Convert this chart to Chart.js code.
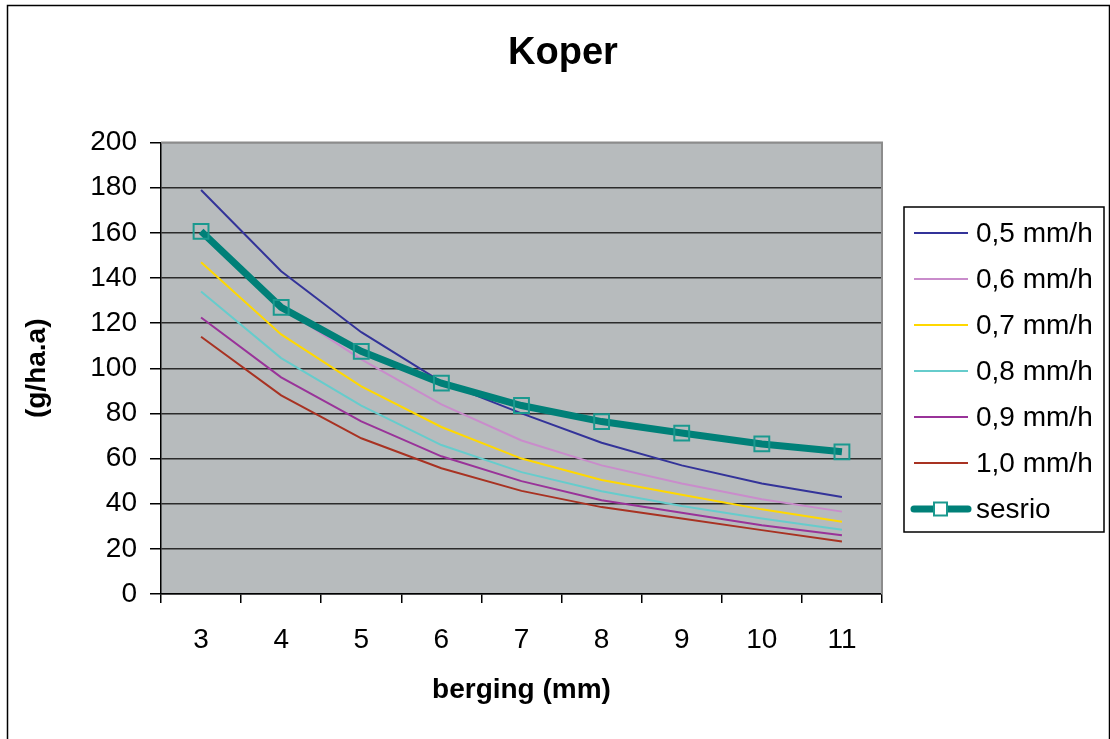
<!DOCTYPE html>
<html>
<head>
<meta charset="utf-8">
<title>Koper</title>
<script src="https://cdn.jsdelivr.net/npm/chart.js@4/dist/chart.umd.min.js"></script>
<style>
  body { margin: 0; background: #fff; }
  canvas { display: block; }
</style>
</head>
<body>
<canvas id="myChart" width="1110" height="739"></canvas>
<script>
// berging (mm) on x, load (g/ha.a) on y
const labels = ["3", "4", "5", "6", "7", "8", "9", "10", "11"];

const mm05 = [179, 143, 116, 94, 80, 67, 57, 49, 43];
const mm06 = [160, 127, 104, 84, 68, 57, 49, 42, 36.5];
const mm07 = [147, 115, 92, 74, 60, 50.5, 44, 37.5, 32];
const mm08 = [134, 104.5, 83.5, 66, 54, 45.5, 39, 33.5, 28.5];
const mm09 = [122.5, 96, 76.5, 61, 50, 41.5, 36, 30.5, 26];
const mm10 = [114, 88, 69, 55.7, 45.7, 38.5, 33.5, 28.3, 23.3];
const sesrio = [160.7, 127, 107.5, 93.4, 83.5, 76.4, 71.3, 66.5, 63];

const yTicks = [0, 20, 40, 60, 80, 100, 120, 140, 160, 180, 200];

const FONT = '"Liberation Sans", Arial, sans-serif';

function thin(label, data, color) {
    return {
        label: label,
        data: data,
        borderColor: color,
        backgroundColor: color,
        borderWidth: 2,
        pointRadius: 0,
        tension: 0,
        order: 2
    };
}

// background, frame, plot area, title text and legend box
const framePlugin = {
    id: 'frame',
    beforeDraw(chart) {
        const c = chart.ctx;
        const a = chart.chartArea;
        c.save();
        c.fillStyle = '#fff';
        c.fillRect(0, 0, chart.width, chart.height);
        c.strokeStyle = '#000';
        c.lineWidth = 1.5;
        c.strokeRect(7.5, 5.5, chart.width - 8, chart.height);
        c.fillStyle = '#b7bbbd';
        c.fillRect(a.left, a.top, a.right - a.left, a.bottom - a.top);
        c.restore();
    },
    afterDraw(chart) {
        const c = chart.ctx;
        const a = chart.chartArea;
        c.save();
        c.strokeStyle = '#8c8c8c';
        c.lineWidth = 2;
        c.beginPath();
        c.moveTo(a.left, a.top);
        c.lineTo(a.right, a.top);
        c.lineTo(a.right, a.bottom);
        c.stroke();

        // title, centred on the whole frame
        const t = chart.titleBlock;
        c.fillStyle = '#000';
        c.font = 'bold 38px ' + FONT;
        c.textAlign = 'center';
        c.textBaseline = 'middle';
        c.fillText(chart.options.plugins.title.text, 563, (t.top + t.bottom) / 2 - 18);

        // legend
        c.textAlign = 'left';
        c.strokeStyle = '#000';
        c.lineWidth = 1.5;
        c.fillStyle = '#fff';
        c.fillRect(904, 207, 200, 325);
        c.strokeRect(904, 207, 200, 325);
        c.font = '28px ' + FONT;
        chart.data.datasets.forEach((ds, i) => {
            const y = 233 + i * 46;
            c.strokeStyle = ds.borderColor;
            c.lineWidth = ds.borderWidth;
            c.lineCap = ds.borderWidth > 3 ? 'round' : 'butt';
            c.beginPath();
            c.moveTo(914, y);
            c.lineTo(968, y);
            c.stroke();
            if (ds.pointRadius > 0) {
                c.fillStyle = '#fff';
                c.strokeStyle = ds.pointBorderColor;
                c.lineWidth = 2;
                c.fillRect(934, y - 6.5, 13, 13);
                c.strokeRect(934, y - 6.5, 13, 13);
            }
            c.fillStyle = '#000';
            c.fillText(ds.label, 976, y + 1);
        });
        c.restore();
    }
};

var ctx = document.getElementById('myChart').getContext('2d');

var chart = new Chart(ctx, {
    type: 'line',
    data: {
        labels: labels,
        datasets: [
            thin('0,5 mm/h', mm05, '#333399'),
            thin('0,6 mm/h', mm06, '#c98ccb'),
            thin('0,7 mm/h', mm07, '#ffd800'),
            thin('0,8 mm/h', mm08, '#66cccc'),
            thin('0,9 mm/h', mm09, '#993399'),
            thin('1,0 mm/h', mm10, '#a83222'),
            {
                label: 'sesrio',
                data: sesrio,
                borderColor: '#008078',
                borderWidth: 7,
                pointStyle: 'rect',
                pointRadius: 10.5,
                pointBorderWidth: 2,
                pointBorderColor: '#1a998f',
                pointBackgroundColor: 'rgba(0,0,0,0)',
                tension: 0,
                order: 1
            }
        ]
    },
    options: {
        responsive: false,
        animation: false,
        layout: {
            padding: { left: 8, right: 228, top: 0, bottom: 0 }
        },
        plugins: {
            legend: { display: false },
            tooltip: { enabled: false },
            // kept for spacing; the text itself is painted by the frame plugin
            title: {
                display: true,
                text: 'Koper',
                color: 'rgba(0,0,0,0)',
                font: { family: FONT, size: 38, weight: 'bold' },
                padding: { top: 30, bottom: 67 }
            }
        },
        scales: {
            x: {
                offset: true,
                grid: {
                    offset: true,
                    drawOnChartArea: false,
                    tickLength: 9,
                    tickColor: '#000',
                    lineWidth: 1.5
                },
                border: { color: '#000', width: 1.5 },
                ticks: {
                    color: '#000',
                    padding: 20,
                    font: { family: FONT, size: 28 },
                    maxRotation: 0
                },
                title: {
                    display: true,
                    text: 'berging (mm)',
                    color: '#000',
                    font: { family: FONT, size: 28, weight: 'bold' },
                    padding: { top: 0, bottom: 32 }
                },
                afterFit(scale) { scale.height = 145; }
            },
            y: {
                min: 0,
                max: 200,
                afterBuildTicks(scale) {
                    scale.ticks = yTicks.map(v => ({ value: v }));
                },
                grid: {
                    color: c => c.tick && c.tick.value === 200 ? '#8c8c8c' : '#2b2b2b',
                    lineWidth: 1.5,
                    tickLength: 11,
                    tickColor: '#000'
                },
                border: { color: '#000', width: 1.5 },
                ticks: {
                    color: '#000',
                    padding: 13,
                    font: { family: FONT, size: 28 }
                },
                title: {
                    display: true,
                    text: '(g/ha.a)',
                    color: '#000',
                    font: { family: FONT, size: 28, weight: 'bold' },
                    padding: { top: 12, bottom: 0 }
                },
                afterFit(scale) { scale.width = 153; }
            }
        }
    },
    plugins: [framePlugin]
});
</script>
</body>
</html>
